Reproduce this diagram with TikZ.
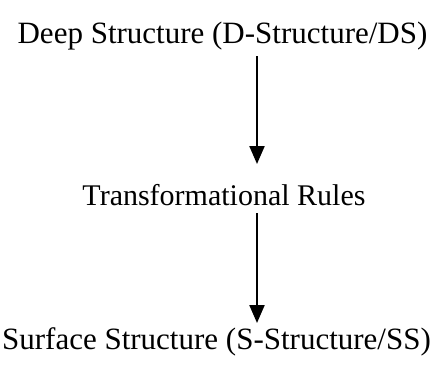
\documentclass[tikz,border=0pt]{standalone}
\usepackage{fontspec}
\setmainfont{Liberation Serif}
\usetikzlibrary{arrows.meta}
\begin{document}
\begin{tikzpicture}[x=1pt,y=-1pt,
  lbl/.style={inner sep=0pt,font=\fontsize{#1}{34}\selectfont},
  conn/.style={line width=2.2pt,-{Triangle[length=18pt,width=15pt]}}]
\useasboundingbox (0,0) rectangle (433,364);
\node[lbl=31] (ds) at (222.5,36) {Deep Structure (D-Structure/DS)};
\node[lbl=30] (tr) at (224,195) {Transformational Rules};
\node[lbl=31] (ss) at (216.5,342) {Surface Structure (S-Structure/SS)};
\coordinate (a1s) at (257,56);
\coordinate (a1e) at (257,164);
\coordinate (a2s) at (257,213);
\coordinate (a2e) at (257,323);
\draw[conn] (a1s) -- (a1e);
\draw[conn] (a2s) -- (a2e);
\end{tikzpicture}
\end{document}
